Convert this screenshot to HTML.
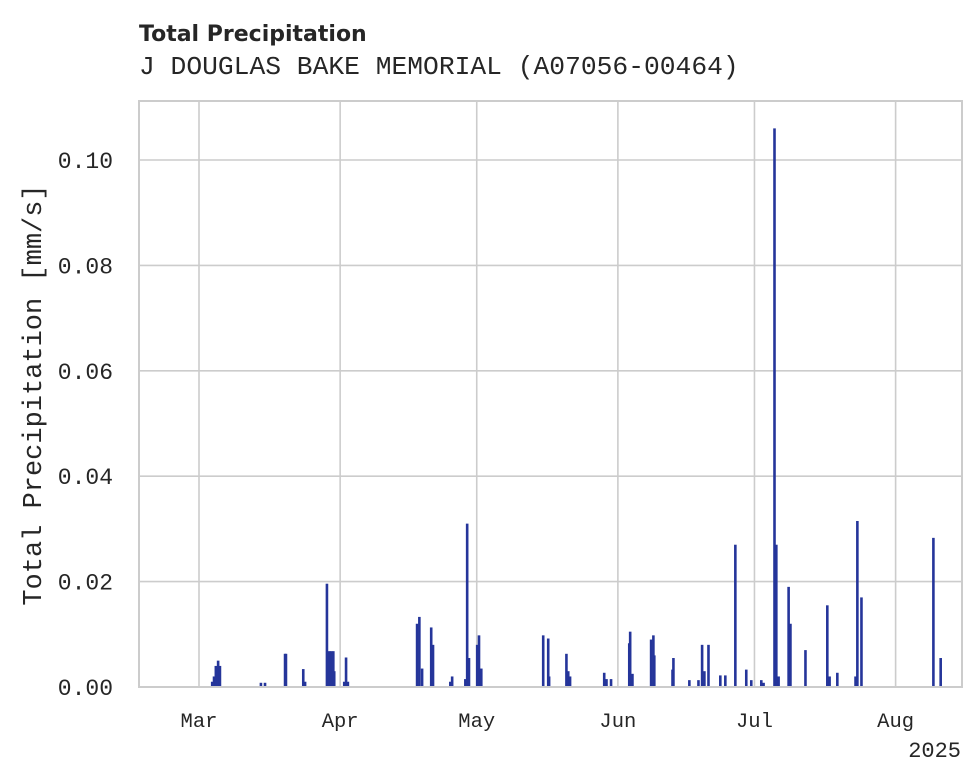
<!DOCTYPE html>
<html><head><meta charset="utf-8"><style>
body{margin:0;background:#fff;width:980px;height:783px;overflow:hidden}
svg{display:block}
</style></head><body>
<svg id="chart" width="980" height="783" xmlns="http://www.w3.org/2000/svg">
<text x="139" y="41" font-family="DejaVu Sans, sans-serif" font-weight="bold" font-size="22" fill="#262626">Total Precipitation</text>
<text x="139" y="74" font-family="Liberation Mono, monospace" font-size="26.3" fill="#262626">J DOUGLAS BAKE MEMORIAL (A07056-00464)</text>
<g id="grid"></g>
<g id="bars"></g>
<rect x="139" y="101" width="823" height="586" fill="none" stroke="#cccccc" stroke-width="2"/>
<g id="axes"></g>
<text transform="translate(41,395) rotate(-90)" text-anchor="middle" font-family="Liberation Mono, monospace" font-size="27" fill="#262626">Total Precipitation [mm/s]</text>
<text x="961" y="757" text-anchor="end" font-family="Liberation Mono, monospace" font-size="22" fill="#262626">2025</text>
</svg>
<script>
// days since Mar 1, 2025
const days=[2.9,3.3,3.7,4.2,4.6,13.6,14.5,18.9,19.1,22.9,23.3,28.1,28.6,29.0,29.5,29.7,31.9,32.3,32.7,47.9,48.4,49.0,51.0,51.4,55.2,55.6,58.5,58.9,59.3,61.1,61.5,62.0,75.6,76.7,76.9,80.7,81.1,81.5,89.0,89.5,90.5,94.5,94.7,95.2,99.3,99.8,100.0,104.0,104.2,107.7,109.7,110.5,111.0,111.9,114.5,115.6,117.8,120.2,121.3,123.5,124.0,126.4,126.8,127.3,129.5,129.9,133.2,138.0,138.5,140.2,144.2,144.6,145.5,161.3,162.9];
const values=[0.001,0.002,0.004,0.005,0.004,0.0008,0.0008,0.0063,0.0063,0.0034,0.001,0.0196,0.0068,0.0068,0.0068,0.003,0.001,0.0056,0.001,0.012,0.0133,0.0035,0.0113,0.008,0.001,0.002,0.0015,0.031,0.0055,0.008,0.0098,0.0035,0.0098,0.0092,0.002,0.0063,0.003,0.002,0.0027,0.0015,0.0015,0.0083,0.0105,0.0025,0.009,0.0098,0.006,0.0033,0.0055,0.0013,0.0013,0.008,0.003,0.008,0.0022,0.0022,0.027,0.0033,0.0013,0.0013,0.0008,0.106,0.027,0.002,0.019,0.012,0.007,0.0155,0.002,0.0027,0.002,0.0315,0.017,0.0283,0.0055];
const yTicks=[0,0.02,0.04,0.06,0.08,0.10];
const yTickLabels=["0.00","0.02","0.04","0.06","0.08","0.10"];
const monthDays=[0,31,61,92,122,153];
const monthLabels=["Mar","Apr","May","Jun","Jul","Aug"];
const NS="http://www.w3.org/2000/svg";
const xS=d=>199+d*4.553;
const yS=v=>687-v*5270;
function mk(tag,attrs,parent,text){const e=document.createElementNS(NS,tag);for(const k in attrs)e.setAttribute(k,attrs[k]);if(text!==undefined)e.textContent=text;parent.appendChild(e);return e;}
const grid=document.getElementById('grid'),axes=document.getElementById('axes'),bars=document.getElementById('bars');
yTicks.forEach((t,i)=>{
  const l=mk('line',{x1:139,x2:962,y1:yS(t),y2:yS(t),stroke:'#cccccc','stroke-width':1.6},grid);
  
  
  const tx=mk('text',{x:113,y:yS(t)+8,'text-anchor':'end','font-family':'Liberation Mono, monospace','font-size':23,fill:'#262626'},axes,yTickLabels[i]);
  
  
});
monthDays.forEach((d,i)=>{
  const l=mk('line',{x1:xS(d),x2:xS(d),y1:101,y2:687,stroke:'#cccccc','stroke-width':1.6},grid);
  
  
  const tx=mk('text',{x:xS(d),y:727,'text-anchor':'middle','font-family':'Liberation Mono, monospace','font-size':20.5,fill:'#262626'},axes,monthLabels[i]);
  
  
});
days.forEach((d,i)=>{
  const x=xS(d),y=yS(values[i]);
  const r=mk('rect',{x:x-1.3,y:y,width:2.6,height:687-y,fill:'#25359a'},bars);
  
  
});
</script>
</body></html>
